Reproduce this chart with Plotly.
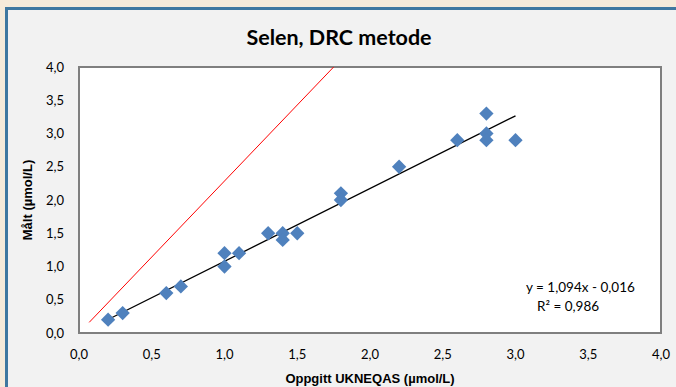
import plotly.graph_objects as go

# Data
x_vals = [0.2, 0.3, 0.6, 0.7, 1.0, 1.0, 1.1, 1.3, 1.4, 1.4, 1.5, 1.8, 1.8, 2.2, 2.6, 2.8, 2.8, 2.8, 3.0]
y_vals = [0.2, 0.3, 0.6, 0.7, 1.2, 1.0, 1.2, 1.5, 1.5, 1.4, 1.5, 2.1, 2.0, 2.5, 2.9, 3.3, 3.0, 2.9, 2.9]
slope = 1.094
intercept = -0.016
r2 = 0.986
red_x = [0.07, 1.75]
red_y = [0.16, 4.0]
tick_vals = [0.0, 0.5, 1.0, 1.5, 2.0, 2.5, 3.0, 3.5, 4.0]

W, H = 676, 387
L, R, T, B = 79, 15, 67, 54
pw, ph = W - L - R, H - T - B


def px(x):
    return (x - L) / pw


def py(y):
    return (H - B - y) / ph


fig = go.Figure()

trend_x = [min(x_vals), max(x_vals)]
trend_y = [slope * v + intercept for v in trend_x]

fig.add_trace(go.Scatter(x=red_x, y=red_y, mode="lines",
                         line=dict(color="#FF0000", width=1), showlegend=False, hoverinfo="skip"))
fig.add_trace(go.Scatter(x=trend_x, y=trend_y, mode="lines",
                         line=dict(color="#000000", width=1.3), showlegend=False, hoverinfo="skip"))
fig.add_trace(go.Scatter(x=x_vals, y=y_vals, mode="markers",
                         marker=dict(symbol="diamond", size=11, color="#4F81BD", line=dict(width=0)),
                         showlegend=False))

shapes = [
    dict(type="rect", xref="paper", yref="paper", layer="below",
         x0=px(6.5), x1=px(700), y0=py(8.5), y1=py(420),
         fillcolor="#F2F2F2", line=dict(color="#3F78A0", width=3)),
    dict(type="rect", xref="paper", yref="paper", layer="below",
         x0=0, x1=1, y0=0, y1=1,
         fillcolor="#FFFFFF", line=dict(color="#7F7F7F", width=2)),
]

fig.update_layout(
    width=W, height=H,
    margin=dict(l=L, r=R, t=T, b=B, autoexpand=False),
    paper_bgcolor="#F5EBDA",
    plot_bgcolor="#FFFFFF",
    separators=", ",
    shapes=shapes,
    title=dict(text="<b>Selen, DRC metode</b>", x=(339 - L) / pw, xref="paper", xanchor="center",
               y=1 - 37 / H, yref="container", yanchor="middle",
               font=dict(family="Lato", size=21.5, color="#000000")),
    font=dict(family="Lato", size=13, color="#000000"),
    showlegend=False,
)

fig.update_xaxes(range=[0, 4], tickvals=tick_vals, tickformat=".1f", automargin=False,
                 showgrid=False, zeroline=False, showline=False, ticks="",
                 ticklabelstandoff=12,
                 tickfont=dict(family="Lato", size=13, color="#000000"),
                 title=dict(text="<b>Oppgitt UKNEQAS (µmol/L)</b>", standoff=12,
                            font=dict(family="Liberation Sans", size=13, color="#000000")))
fig.update_yaxes(range=[0, 4], tickvals=tick_vals, tickformat=".1f", automargin=False,
                 showgrid=False, zeroline=False, showline=False, ticks="",
                 ticklabelstandoff=14,
                 tickfont=dict(family="Lato", size=13, color="#000000"),
                 title=dict(text="<b>Målt (µmol/L)</b>", standoff=10,
                            font=dict(family="Liberation Sans", size=13, color="#000000")))

fig.add_annotation(xref="paper", yref="paper", x=px(580), y=py(287),
                   text="y = 1,094x - 0,016", showarrow=False,
                   xanchor="center", yanchor="middle",
                   font=dict(family="Lato", size=13.5, color="#000000"))
fig.add_annotation(xref="paper", yref="paper", x=px(568), y=py(306),
                   text="R² = 0,986", showarrow=False,
                   xanchor="center", yanchor="middle",
                   font=dict(family="Lato", size=13.5, color="#000000"))

fig.write_html("out.html")
